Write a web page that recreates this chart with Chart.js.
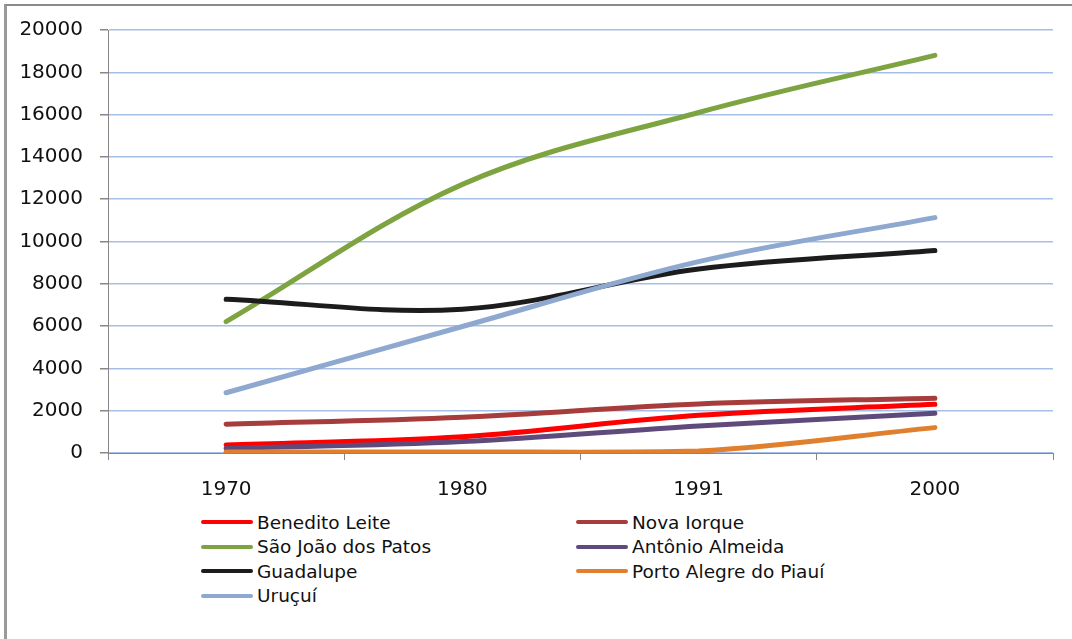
<!DOCTYPE html>
<html>
<head>
<meta charset="utf-8">
<script src="https://cdn.jsdelivr.net/npm/chart.js@4/dist/chart.umd.min.js"></script>
<style>
  body { margin: 0; background: #fff; }
  #page { position: relative; width: 1072px; height: 639px; overflow: hidden; font-family: "DejaVu Sans", sans-serif; }
  #frame { position: absolute; left: 4px; top: 4px; right: 0; bottom: 0; border-left: 3px solid #9a9a9a; border-top: 2px solid #8a8a8a; }
  #wrap { position: absolute; left: 0; top: 0; width: 1072px; height: 510px; }
  #legend { position: absolute; left: 201px; top: 510px; display: grid; grid-template-columns: 375px 300px; grid-auto-rows: 24.5px; }
  .item { display: flex; align-items: center; font-size: 18.5px; color: #111; white-space: nowrap; }
  .swatch { width: 52px; height: 4px; border-radius: 2px; margin-right: 4px; }
</style>
</head>
<body>
<div id="page">
  <div id="frame"></div>
  <div id="wrap"><canvas id="chart"></canvas></div>
  <div id="legend"></div>
</div>
<script>
// values
const years = ['1970', '1980', '1991', '2000'];
const beneditoLeite = [380, 770, 1780, 2300];
const novaIorque = [1360, 1690, 2320, 2590];
const saoJoaoDosPatos = [6210, 12700, 16100, 18800];
const antonioAlmeida = [210, 540, 1280, 1880];
const guadalupe = [7270, 6800, 8700, 9570];
const portoAlegre = [50, 50, 90, 1200];
const urucui = [2850, 5980, 9050, 11130];

const seriesNames = ['Benedito Leite', 'Nova Iorque', 'São João dos Patos', 'Antônio Almeida', 'Guadalupe', 'Porto Alegre do Piauí', 'Uruçuí'];
const seriesValues = [beneditoLeite, novaIorque, saoJoaoDosPatos, antonioAlmeida, guadalupe, portoAlegre, urucui];
const seriesColors = ['#ff0000', '#a63c3c', '#7da441', '#5f4a7c', '#1c1c1c', '#e0802f', '#8ea8d0'];

const datasets = seriesNames.map((name, i) => ({
  label: name,
  data: seriesValues[i],
  borderColor: seriesColors[i],
  backgroundColor: seriesColors[i],
  borderWidth: 5,
  borderCapStyle: 'round',
  tension: 0.35,
  pointRadius: 0,
  fill: false,
  // later series drawn on top, like the original
  order: seriesNames.length - i
}));

// html legend laid out in two columns
const htmlLegend = {
  id: 'htmlLegend',
  afterUpdate(chart) {
    const box = document.getElementById('legend');
    box.innerHTML = '';
    chart.data.datasets.forEach(ds => {
      const item = document.createElement('div');
      item.className = 'item';
      const sw = document.createElement('span');
      sw.className = 'swatch';
      sw.style.background = ds.borderColor;
      item.appendChild(sw);
      item.appendChild(document.createTextNode(ds.label));
      box.appendChild(item);
    });
  }
};

const axisGrey = '#878787';

new Chart(document.getElementById('chart'), {
  type: 'line',
  data: { labels: years, datasets: datasets },
  options: {
    responsive: true,
    maintainAspectRatio: false,
    animation: false,
    layout: { padding: { left: 0, top: 30, right: 19, bottom: 0 } },
    plugins: { legend: { display: false }, tooltip: { enabled: false } },
    scales: {
      x: {
        offset: true,
        grid: { display: true, drawOnChartArea: false, offset: true, tickLength: 7, tickColor: axisGrey },
        border: { color: axisGrey, width: 1 },
        ticks: { color: '#111', padding: 18, font: { family: 'DejaVu Sans', size: 20 }, maxRotation: 0 },
        afterFit(scale) { scale.height = 57; }
      },
      y: {
        min: 0,
        max: 20000,
        grid: { color: '#a6bfe7', lineWidth: 1.5, tickLength: 8, tickColor: axisGrey },
        border: { color: axisGrey, width: 1 },
        ticks: {
          stepSize: 2000,
          color: '#111',
          padding: 17,
          font: { family: 'DejaVu Sans', size: 20 },
          callback: v => String(v)
        },
        afterFit(scale) { scale.width = 108; }
      }
    }
  },
  plugins: [htmlLegend]
});
</script>
</body>
</html>
